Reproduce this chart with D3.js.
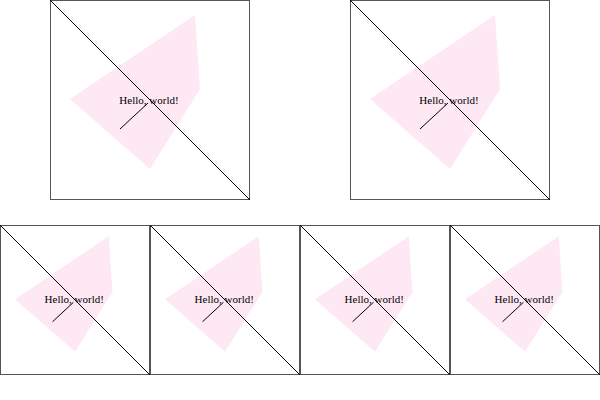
<!DOCTYPE html>
<html><head><meta charset="utf-8">
<script src="https://cdn.jsdelivr.net/npm/d3@7"></script>
<style>body{margin:0;background:#fff}</style>
</head><body>
<script>
// panels: x, y, size
var panelX = [50, 350, 0, 150, 300, 450];
var panelY = [0, 0, 225, 225, 225, 225];
var panelSize = [200, 200, 150, 150, 150, 150];
// shape in 0-100 units
var polyX = [10, 72.5, 75, 50];
var polyY = [49.5, 7.5, 44.5, 84.5];
var lineX = [35, 49];
var lineY = [64.5, 51.5];
var label = "Hello, world!";

var svg = d3.select("body").append("svg").attr("width",600).attr("height",400);

panelX.forEach(function(px,i){
	var s = panelSize[i];
	var x = d3.scaleLinear().domain([0,100]).range([px, px+s]);
	var y = d3.scaleLinear().domain([0,100]).range([panelY[i], panelY[i]+s]);
	var g = svg.append("g");
	g.append("polygon")
		.attr("points", polyX.map(function(d,j){ return x(d)+","+y(polyY[j]); }).join(" "))
		.attr("fill","#fde8f4");
	g.append("rect")
		.attr("x", x(0)+0.5).attr("y", y(0)+0.5)
		.attr("width", s-1).attr("height", s-1)
		.attr("fill","none").attr("stroke","#555");
	g.append("line")
		.attr("x1", x(0)).attr("y1", y(0))
		.attr("x2", x(100)).attr("y2", y(100))
		.attr("stroke","black");
	g.append("text")
		.attr("x", x(49.5)).attr("y", y(52))
		.attr("text-anchor","middle")
		.attr("font-family","Liberation Serif, serif")
		.attr("font-size",11)
		.text(label);
	g.append("line")
		.attr("x1", x(lineX[0])).attr("y1", y(lineY[0]))
		.attr("x2", x(lineX[1])).attr("y2", y(lineY[1]))
		.attr("stroke","black");
});
</script>
</body></html>
